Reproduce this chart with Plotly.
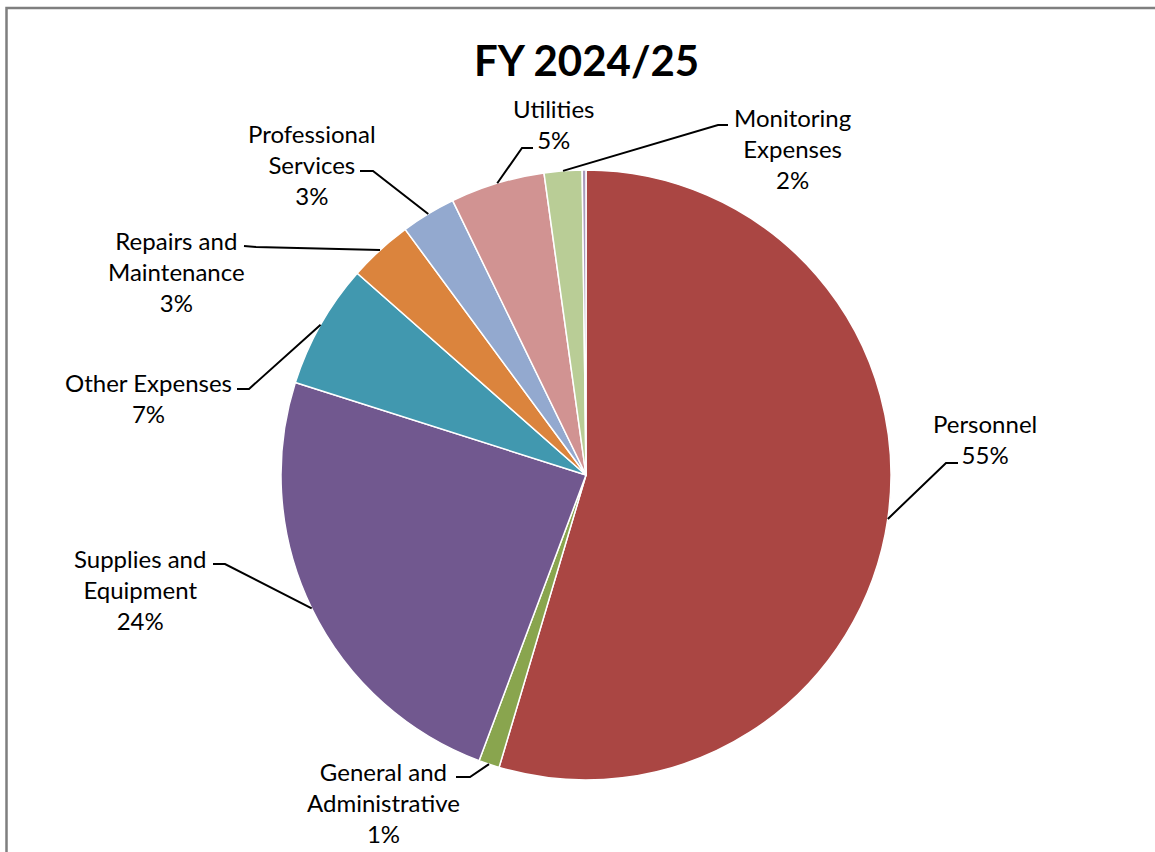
import math
import plotly.graph_objects as go

# ---- data ----
categories = ["Personnel", "General and Administrative", "Supplies and Equipment",
              "Other Expenses", "Repairs and Maintenance", "Professional Services",
              "Utilities", "Monitoring Expenses", "Other (unlabeled)"]
label_text = ["Personnel", "General and<br>Administrative", "Supplies and<br>Equipment",
              "Other Expenses", "Repairs and<br>Maintenance", "Professional<br>Services",
              "Utilities", "Monitoring<br>Expenses", None]
values = [54.6, 1.1, 24.2, 6.6, 3.4, 2.9, 5.0, 2.0, 0.2]
colors = ["#AA4643", "#89A54E", "#71588F", "#4198AF", "#DB843D",
          "#93A9CF", "#D19392", "#B9CD96", "#A99BBD"]

# ---- layout geometry (pixels) ----
W, H = 1155, 852
CX, CY, R = 586, 475, 305
FONT = "Lato, 'Open Sans', sans-serif"

# label block centre, elbow point, end of horizontal segment
label_pos = [(985, 439), (383, 802), (140, 589), (148, 398), (176, 272),
             (312, 164), (553, 124), (792, 148), None]
elbows = [((946, 463), (958, 463)), ((470, 777), (456, 777)), ((225, 564), (213, 564)),
          ((249, 389), (237, 389)), ((256, 247), (244, 246)), ((373, 171), (360, 171)),
          ((522, 148), (533, 148)), ((718, 125), (728, 125)), None]


def px(x, y):
    return x / W, 1 - y / H


fig = go.Figure(go.Pie(
    labels=categories, values=values, sort=False, direction="clockwise", rotation=0,
    marker=dict(colors=colors, line=dict(color="white", width=1.5)),
    textinfo="none", hoverinfo="label+percent", showlegend=False,
    domain=dict(x=[(CX - R) / W, (CX + R) / W], y=[1 - (CY + R) / H, 1 - (CY - R) / H]),
))

total = sum(values)
cum = 0.0
shapes = []
annotations = []
for i, v in enumerate(values):
    mid = 2 * math.pi * (cum + v / 2) / total
    cum += v
    if label_pos[i] is None:
        continue
    ax, ay = CX + R * math.sin(mid), CY - R * math.cos(mid)
    (ex, ey), (hx, hy) = elbows[i]
    pts = [px(ax, ay), px(ex, ey), px(hx, hy)]
    path = "M {} {} L {} {} L {} {}".format(pts[0][0], pts[0][1], pts[1][0], pts[1][1],
                                            pts[2][0], pts[2][1])
    shapes.append(dict(type="path", xref="paper", yref="paper", path=path,
                       line=dict(color="black", width=2)))
    pct = round(v / total * 100)
    lx, ly = px(*label_pos[i])
    annotations.append(dict(x=lx, y=ly, xref="paper", yref="paper", xanchor="center",
                            yanchor="middle", showarrow=False, align="center",
                            text=f"{label_text[i]}<br>{pct}%",
                            font=dict(family=FONT, size=24, color="black")))

# outer chart frame (left and top edges visible; right/bottom lie outside the view)
x0, y0 = px(6.5, 8)
x1, y1 = px(1220, 900)
shapes.append(dict(type="rect", xref="paper", yref="paper", x0=x0, y0=y1, x1=x1, y1=y0,
                   line=dict(color="#7F7F7F", width=2.5)))

tx, ty = px(586, 60)
annotations.append(dict(x=tx, y=ty, xref="paper", yref="paper", xanchor="center",
                        yanchor="middle", showarrow=False, text="<b>FY 2024/25</b>",
                        font=dict(family=FONT, size=42, color="black")))

fig.update_layout(width=W, height=H, margin=dict(l=0, r=0, t=0, b=0),
                  paper_bgcolor="white", plot_bgcolor="white",
                  shapes=shapes, annotations=annotations)

fig.write_html("out.html", config={"displayModeBar": False},
               post_script="document.body.style.margin='0';"
                           "document.body.style.overflow='hidden';")
